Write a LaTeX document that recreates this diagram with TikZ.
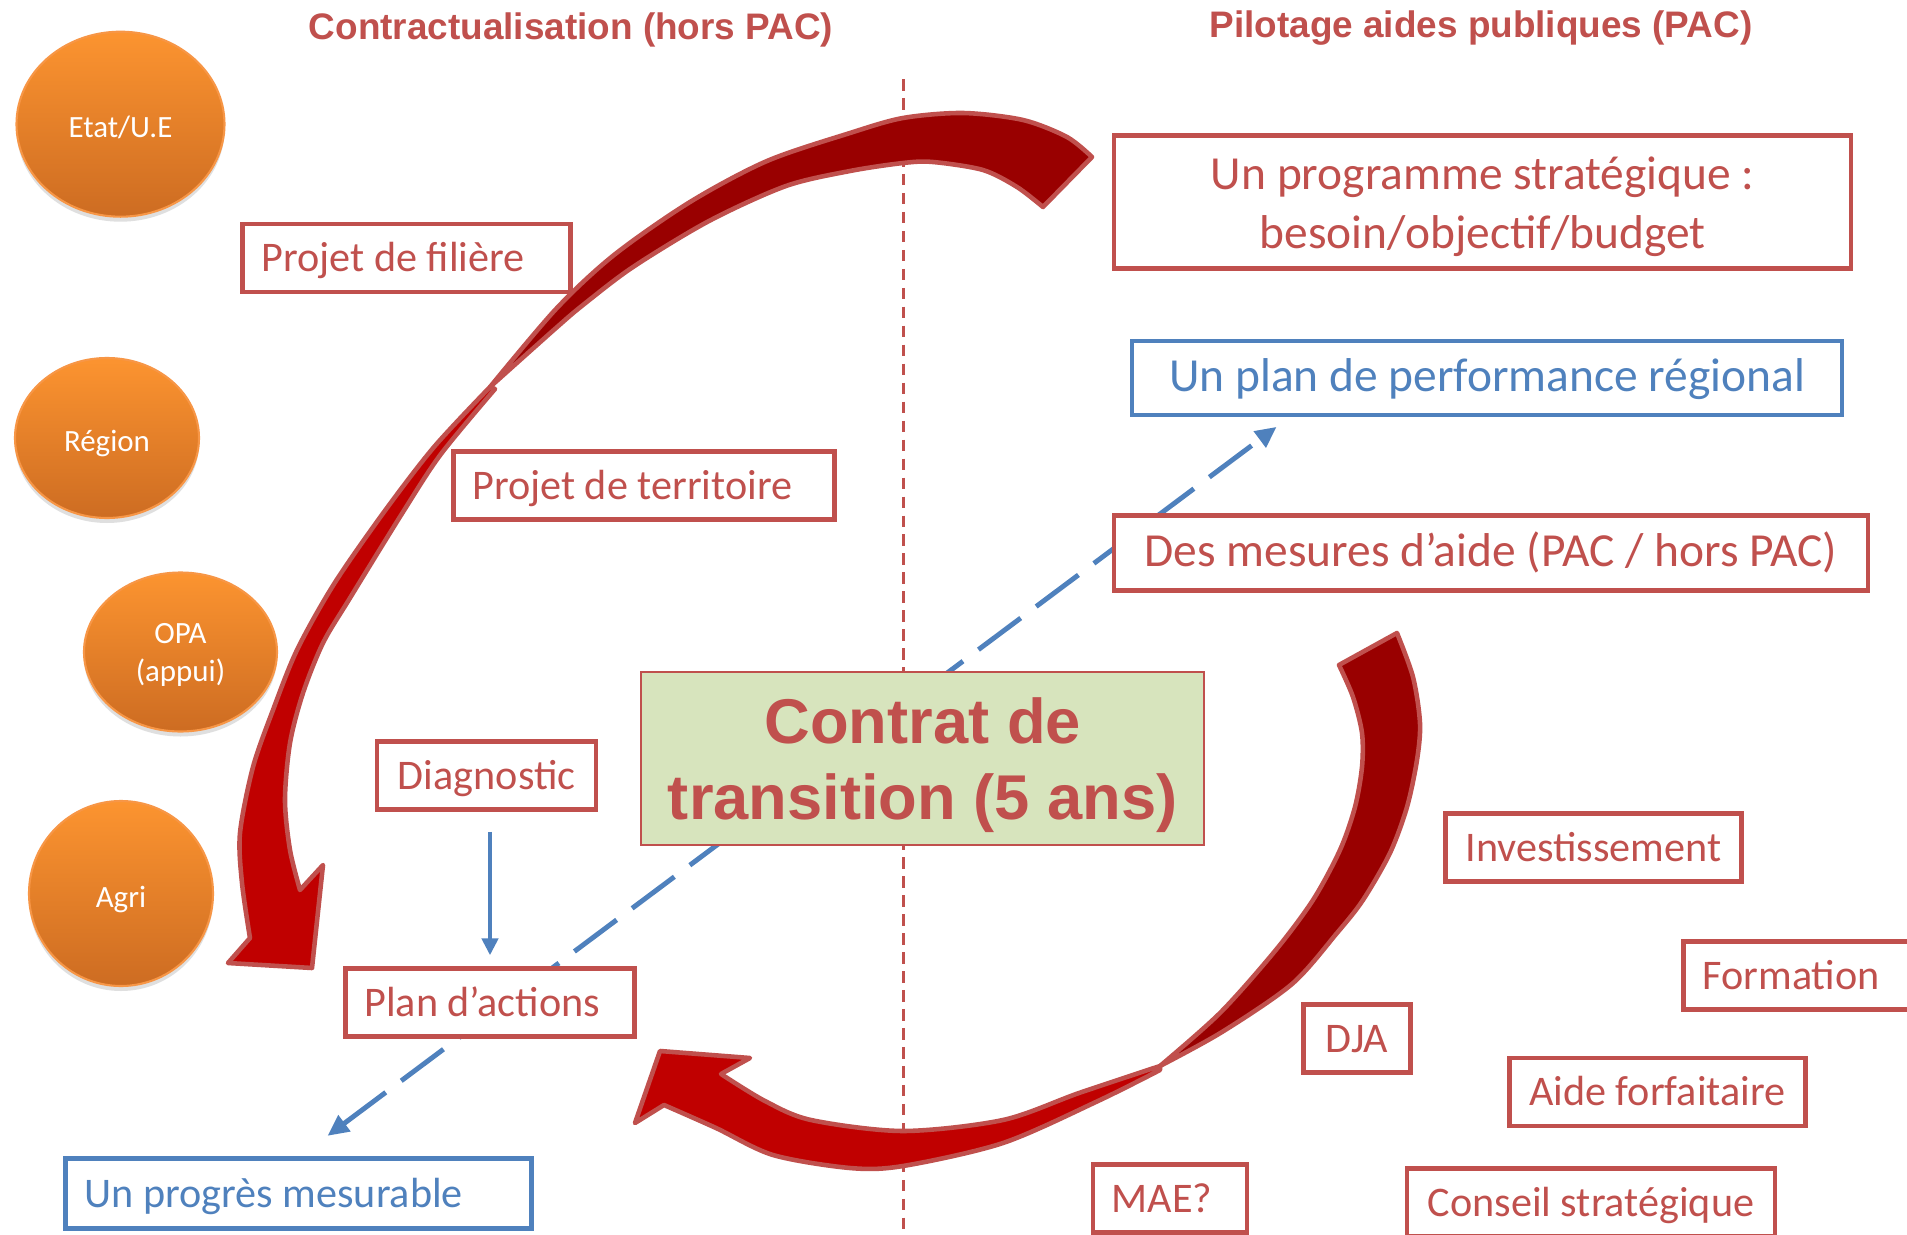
\documentclass[tikz,border=0pt]{standalone}
\usepackage{fontspec}
\setmainfont{Carlito}
\newfontfamily\titlefont{Liberation Sans}
\usepackage{tikz}
\usetikzlibrary{shapes.geometric,shadows,arrows.meta}

\definecolor{pacred}{RGB}{192,80,77}
\definecolor{pacblue}{RGB}{79,129,189}
\definecolor{pacgreen}{RGB}{215,228,189}
\definecolor{darkband}{RGB}{153,0,0}
\definecolor{brightband}{RGB}{192,0,0}
\definecolor{orangetop}{RGB}{252,148,48}
\definecolor{orangebot}{RGB}{205,108,34}
\definecolor{orangerim}{RGB}{247,150,70}

\tikzset{
	redbox/.style={draw=pacred,line width=1.3pt,fill=white,text=pacred,
		font=\fontsize{12}{14.6}\selectfont,minimum height=0.68cm,
		inner xsep=0.19cm,inner ysep=0pt,text height=0.82em,text depth=0.04em},
	bluebox/.style={redbox,draw=pacblue,text=pacblue},
	bigbox/.style={draw=pacred,line width=1.3pt,fill=white,text=pacred,
		font=\fontsize{13.5}{16.8}\selectfont,inner sep=0pt,align=center},
	contract/.style={draw=pacred,line width=0.65pt,fill=pacgreen,text=pacred,
		font=\titlefont\bfseries\fontsize{18}{21.8}\selectfont,align=center,
		minimum width=5.63cm,minimum height=1.73cm,text depth=0pt},
	agent/.style={ellipse,draw=orangerim,line width=0.6pt,top color=orangetop,
		bottom color=orangebot,text=white,font=\fontsize{8.8}{10.8}\selectfont,
		align=center,inner sep=0pt,
		drop shadow={shadow xshift=0pt,shadow yshift=-0.05cm,opacity=0.25}},
	oneline/.style={text height=0.82em,text depth=0.04em},
	coltitle/.style={text=pacred,font=\titlefont\bfseries\fontsize{10.5}{12}\selectfont,anchor=base},
	band/.style={draw=pacred,line width=1.3pt,line join=round},
	dashlink/.style={pacblue,line width=1.4pt,dash pattern=on 15pt off 5.5pt,
		{Triangle[length=6pt,width=5.5pt]}-{Triangle[length=6pt,width=5.5pt]}},
	thinlink/.style={pacblue,line width=1.15pt,-{Triangle[length=4.8pt,width=4.6pt]}}
}

\begin{document}
\begin{tikzpicture}
	\useasboundingbox[fill=white] (0,0) rectangle (19.07,12.34);
	
	%separator
	\draw[pacred,line width=1.1pt,dash pattern=on 3.3pt off 2.1pt] (9.035,11.55)--(9.035,0);
	
	%titles
	\node[coltitle] (titleleft) at (5.71,11.945) {Contractualisation (hors PAC)};
	\node[coltitle] (titleright) at (14.81,11.965) {Pilotage aides publiques (PAC)};
	
	%dashed link
	\coordinate (progtip) at (3.276,0.982);
	\coordinate (perftip) at (12.766,8.071);
	\draw[dashlink] (progtip)--(perftip);
	
	%left boxes
	\node[redbox,text width=2.90cm,align=flush left] (filiere) at (4.065,9.76) {Projet de filière};
	\node[redbox,text width=3.43cm,align=flush left] (territoire) at (6.439,7.486) {Projet de territoire};
	\node[redbox,minimum width=2.19cm] (diag) at (4.867,4.585) {Diagnostic};
	\node[redbox,text width=2.51cm,align=flush left] (plan) at (4.90,2.315) {Plan d’actions};
	\node[bluebox,text width=4.28cm,align=flush left,minimum height=0.70cm] (progres) at (2.985,0.406) {Un progrès mesurable};
	
	%right boxes
	\node[bigbox,minimum width=7.37cm,minimum height=1.33cm,text depth=0pt] (programme) at (14.827,10.318) {Un programme stratégique :\\besoin/objectif/budget};
	\node[bigbox,oneline,draw=pacblue,text=pacblue,minimum width=7.10cm,minimum height=0.74cm] (perf) at (14.872,8.561) {Un plan de performance régional};
	\node[bigbox,oneline,minimum width=7.54cm,minimum height=0.75cm] (mesures) at (14.909,6.81) {Des mesures d’aide (PAC / hors PAC)};
	\node[redbox,minimum width=2.96cm] (invest) at (15.935,3.863) {Investissement};
	\node[redbox,text width=1.91cm,align=flush left] (formation) at (17.982,2.583) {Formation};
	\node[redbox,minimum width=1.07cm] (dja) at (13.569,1.953) {DJA};
	\node[redbox,minimum width=2.96cm] (aide) at (16.573,1.422) {Aide forfaitaire};
	\node[redbox,text width=1.16cm,align=flush left] (mae) at (11.698,0.355) {MAE?};
	\node[redbox,minimum width=3.68cm] (conseil) at (15.91,0.315) {Conseil stratégique};
	
	%centre
	\node[contract] (contrat) at (9.228,4.753) {Contrat de\\transition (5 ans)};
	
	\draw[thinlink,shorten <=0.2cm,shorten >=0.11cm] (diag.south -| plan) -- (plan.north);
	
	%upper band
	\filldraw[band,fill=darkband] plot[smooth] coordinates {(10.92,10.77) (10.67,10.97) (10.23,11.14) (9.63,11.21) (9.03,11.16) (8.50,11.01) (7.67,10.73) (6.90,10.32) (6.14,9.79) (5.56,9.25) (4.90,8.47)}
		-- plot[smooth] coordinates {(4.90,8.47) (5.56,9.06) (5.83,9.29) (6.33,9.67) (7.09,10.13) (7.86,10.48) (8.50,10.63) (9.03,10.71) (9.33,10.72) (9.83,10.64) (10.17,10.47) (10.43,10.27)} -- cycle;
	\filldraw[band,fill=brightband] plot[smooth] coordinates {(4.90,8.47) (4.34,7.87) (3.84,7.22) (3.34,6.50) (2.97,5.84) (2.73,5.24) (2.53,4.67) (2.40,4.01) (2.42,3.51) (2.50,2.96)}
		-- (2.28,2.71) -- (3.12,2.66) -- (3.23,3.69) -- (3.00,3.44)
		-- plot[smooth] coordinates {(3.00,3.44) (2.90,3.84) (2.85,4.34) (2.90,4.91) (3.03,5.41) (3.23,5.91) (3.50,6.36) (4.03,7.22) (4.41,7.80) (4.95,8.45)} -- cycle;
	
	%lower band
	\filldraw[band,fill=darkband] plot[smooth] coordinates {(13.97,6.01) (14.13,5.57) (14.20,5.11) (14.17,4.74) (14.07,4.27) (13.90,3.81) (13.63,3.34) (13.37,3.01) (12.92,2.50) (12.22,2.02) (11.60,1.68)}
		-- plot[smooth] coordinates {(11.60,1.68) (12.20,2.21) (12.75,2.83) (13.13,3.34) (13.40,3.84) (13.55,4.27) (13.62,4.67) (13.62,5.01) (13.53,5.37) (13.39,5.69)} -- cycle;
	\filldraw[band,fill=brightband] plot[smooth] coordinates {(11.60,1.68) (10.79,1.41) (10.03,1.14) (9.03,1.03) (8.11,1.14) (7.65,1.33) (7.21,1.60)}
		-- (7.50,1.76) -- (6.60,1.83) -- (6.35,1.11) -- (6.64,1.29)
		-- plot[smooth] coordinates {(6.64,1.29) (7.16,1.06) (7.73,0.79) (8.50,0.66) (9.03,0.68) (10.03,0.91) (10.98,1.33) (11.60,1.64)} -- cycle;
	
	%actors
	\node[agent,oneline,minimum width=2.08cm,minimum height=1.85cm] (etat) at (1.205,11.098) {Etat/U.E};
	\node[agent,oneline,minimum width=1.84cm,minimum height=1.60cm] (region) at (1.07,7.96) {Région};
	\node[agent,text depth=0pt,minimum width=1.93cm,minimum height=1.59cm] (opa) at (1.805,5.82) {OPA\\(appui)};
	\node[agent,oneline,minimum width=1.84cm,minimum height=1.85cm] (agri) at (1.21,3.405) {Agri};
\end{tikzpicture}
\end{document}
